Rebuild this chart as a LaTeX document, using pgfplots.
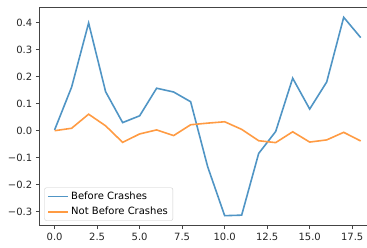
\documentclass[border=0pt]{standalone}
\usepackage{fontspec}
\setmainfont{DejaVu Sans}
\usepackage{pgfplots}
\pgfplotsset{compat=1.18}
\definecolor{tabblue}{HTML}{1F77B4}
\definecolor{taborange}{HTML}{FF7F0E}
\definecolor{spine}{HTML}{444444}
\colorlet{cblue}{tabblue!78!white}
\colorlet{corange}{taborange!78!white}
\begin{document}
\begin{tikzpicture}
\path[use as bounding box] (-39.3bp,-22.3bp) rectangle (327.7bp,225.7bp);
\begin{axis}[
  at={(0,0)}, anchor=south west,
  scale only axis,
  width=327.7bp, height=218.4bp,
  xmin=-0.9, xmax=18.37,
  ymin=-0.351, ymax=0.456,
  axis x line*=box, axis y line*=left,
  axis line style={spine, line width=0.8bp},
  tick align=outside,
  xtick pos=bottom, ytick pos=left,
  major tick length=3.5bp,
  tick style={spine, line width=0.8bp},
  xtick={0,2.5,5,7.5,10,12.5,15,17.5},
  xticklabels={0.0,2.5,5.0,7.5,10.0,12.5,15.0,17.5},
  ytick={-0.3,-0.2,-0.1,0,0.1,0.2,0.3,0.4},
  yticklabels={−0.3,−0.2,−0.1,0.0,0.1,0.2,0.3,0.4},
  ticklabel style={font=\fontsize{10bp}{12bp}\selectfont, text=black!85},
  xticklabel style={yshift=-0.5bp},
  legend cell align=left,
  legend style={at={(0.0153,0.0229)}, anchor=south west,
    draw=black!20, rounded corners=2bp, fill=white,
    font=\fontsize{10bp}{12bp}\selectfont, inner xsep=3bp, inner ysep=2.3bp,
    row sep=2bp},
  legend image code/.code={\draw[#1, line width=1.7bp] (0bp,0bp) -- (20bp,0bp);},
]
\addplot[cblue, line width=1.6bp] coordinates {
(0,0.003) (1,0.161) (2,0.398) (3,0.144) (4,0.030) (5,0.055) (6,0.157) (7,0.143) (8,0.107)
(9,-0.133) (10,-0.314) (11,-0.312) (12,-0.084) (13,-0.003) (14,0.194) (15,0.080) (16,0.180)
(17,0.419) (18,0.344)};
\addlegendentry{Before Crashes}
\addplot[corange, line width=1.6bp] coordinates {
(0,0.0) (1,0.009) (2,0.061) (3,0.018) (4,-0.043) (5,-0.012) (6,0.003) (7,-0.018) (8,0.022)
(9,0.028) (10,0.033) (11,0.005) (12,-0.037) (13,-0.044) (14,-0.004) (15,-0.042) (16,-0.034)
(17,-0.006) (18,-0.038)};
\addlegendentry{Not Before Crashes}
\end{axis}
\end{tikzpicture}
\end{document}
